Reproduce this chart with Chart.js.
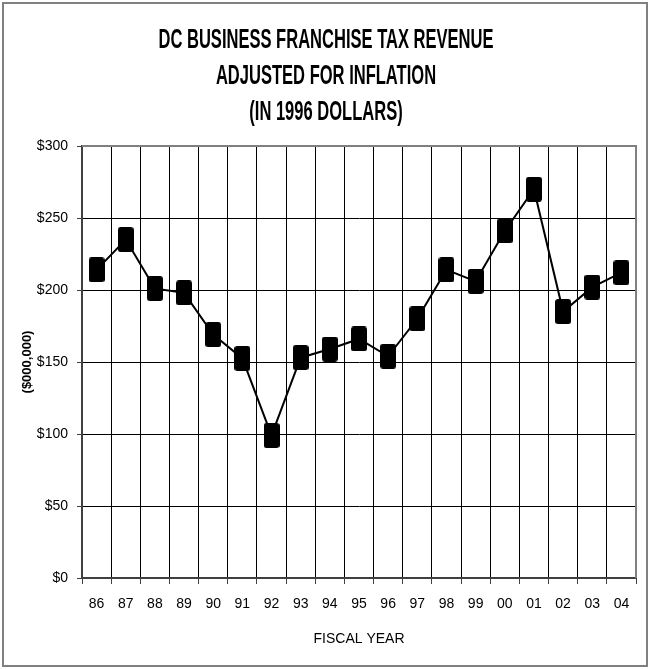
<!DOCTYPE html>
<html>
<head>
<meta charset="utf-8">
<script src="https://cdn.jsdelivr.net/npm/chart.js@4.4.1/dist/chart.umd.min.js"></script>
<style>
  html, body { margin: 0; padding: 0; background: #fff; }
  #wrap { width: 651px; height: 669px; position: relative; }
</style>
</head>
<body>
<div id="wrap"><canvas id="taxChart" width="651" height="669"></canvas></div>
<script>
let fiscalYears = ['86', '87', '88', '89', '90', '91', '92', '93', '94', '95', '96', '97', '98', '99', '00', '01', '02', '03', '04'];
let revenue = [214, 235, 201, 198, 169, 152.5, 99, 153, 159, 166, 154, 180, 214, 206, 241, 270, 185, 202, 212];
let titleLines = ['DC BUSINESS FRANCHISE TAX REVENUE', 'ADJUSTED FOR INFLATION', '(IN 1996 DOLLARS)'];

const sans = "'Liberation Sans', Arial, sans-serif";

// tall rounded black box used as the marker
let marker = document.createElement('canvas');
marker.width = 16;
marker.height = 25;
let mctx = marker.getContext('2d');
mctx.fillStyle = '#000';
mctx.beginPath();
mctx.roundRect(0, 0, 16, 25, 3);
mctx.fill();

// outer frame, grey top/right edge of the plot, and the condensed title
const framePlugin = {
    id: 'frame',
    beforeDraw(chart) {
        let c = chart.ctx;
        c.save();
        c.fillStyle = '#fff';
        c.fillRect(0, 0, chart.width, chart.height);
        c.strokeStyle = '#808080';
        c.lineWidth = 2;
        c.strokeRect(3, 3, 644, 663);
        c.restore();
    },
    afterDatasetsDraw(chart) {
        let a = chart.chartArea;
        let c = chart.ctx;
        c.save();
        c.strokeStyle = '#808080';
        c.lineWidth = 2;
        c.beginPath();
        c.moveTo(a.left, a.top);
        c.lineTo(a.right, a.top);
        c.lineTo(a.right, a.bottom);
        c.stroke();

        // title: tall, squeezed lettering like the original
        c.font = 'bold 27px ' + sans;
        c.fillStyle = '#000';
        c.textAlign = 'center';
        c.textBaseline = 'middle';
        let squeeze = 335 / c.measureText(titleLines[0]).width;
        c.translate(326, 0);
        c.scale(squeeze, 1);
        titleLines.forEach((t, i) => c.fillText(t, 0, 41 + i * 36));
        c.restore();
    }
};

let ctx = document.getElementById('taxChart').getContext('2d');

let taxChart = new Chart(ctx, {
    type: 'line',
    data: {
        labels: fiscalYears,
        datasets: [{
            label: 'Revenue',
            data: revenue,
            borderColor: '#000',
            borderWidth: 2,
            pointStyle: marker,
            pointBackgroundColor: '#000',
            tension: 0
        }]
    },
    plugins: [framePlugin],
    options: {
        responsive: false,
        animation: false,
        events: [],
        layout: { padding: { left: 0, right: 15, top: 146, bottom: 0 } },
        plugins: {
            legend: { display: false },
            tooltip: { enabled: false },
            title: { display: false }
        },
        scales: {
            x: {
                offset: true,
                afterFit(scale) { scale.height = 91; },
                grid: { offset: true, color: '#000', lineWidth: 1, tickLength: 6, tickColor: '#404040' },
                border: { color: '#404040', width: 2 },
                ticks: { color: '#000', padding: 12, maxRotation: 0, autoSkip: false, font: { family: sans, size: 14 } },
                title: { display: true, text: 'FISCAL YEAR', color: '#000', font: { family: sans, size: 14 }, padding: { top: 0, bottom: 21 } }
            },
            y: {
                min: 0,
                max: 300,
                afterFit(scale) { scale.width = 82; },
                grid: { color: '#000', lineWidth: 1, tickLength: 5, tickColor: '#404040' },
                border: { color: '#404040', width: 2 },
                ticks: {
                    stepSize: 50,
                    color: '#000',
                    padding: 9,
                    font: { family: sans, size: 14 },
                    callback: (v) => '$' + v
                },
                title: { display: true, text: '($000,000)', color: '#000', font: { family: sans, size: 13, weight: 'bold' }, padding: { top: 20, bottom: 0 } }
            }
        }
    }
});
</script>
</body>
</html>
